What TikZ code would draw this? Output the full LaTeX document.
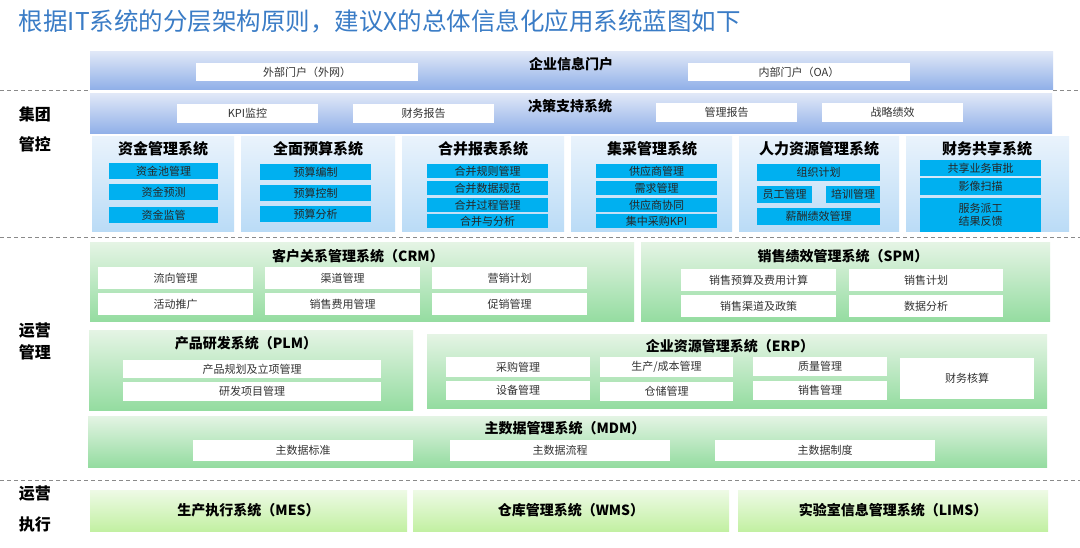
\documentclass[tikz,border=0pt]{standalone}
\usepackage{fontspec}
\setmainfont{Noto Sans CJK SC}
\definecolor{ttlblue}{HTML}{3A7CC6}
\definecolor{bandtop}{HTML}{DFE7F7}
\definecolor{bandbot}{HTML}{8FAFE8}
\definecolor{systop}{HTML}{E9F3FC}
\definecolor{sysbot}{HTML}{BADBF6}
\definecolor{cyanc}{HTML}{00B0F0}
\definecolor{grtop}{HTML}{E4F4E4}
\definecolor{grbot}{HTML}{94DCA0}
\definecolor{extop}{HTML}{EEFAE6}
\definecolor{exbot}{HTML}{C2F0A2}
\definecolor{dashc}{HTML}{8A8A8A}
\newcommand\bx[7]{\node[#2, minimum width={(#5-#3)*1pt}, minimum height={(#6-#4)*1pt}] (#1) at ({(#3+#5)/2},{(#4+#6)/2}) {#7};}
\begin{document}
\begin{tikzpicture}[x=1pt,y=-1pt,
  every node/.style={inner sep=0pt, outer sep=0pt, text=black},
  band/.style={top color=bandtop, bottom color=bandbot},
  sysbox/.style={top color=systop, bottom color=sysbot},
  cyanbox/.style={fill=cyanc, text=black!85, font=\fontsize{11}{13}\selectfont, align=center},
  wbox/.style={fill=white, text=black!80, font=\fontsize{11}{13}\selectfont},
  grbox/.style={top color=grtop, bottom color=grbot},
  exbox/.style={top color=extop, bottom color=exbot, font=\bfseries\fontsize{14}{16}\selectfont},
  ttl/.style={font=\bfseries\fontsize{14}{16}\selectfont},
  systtl/.style={font=\bfseries\fontsize{15}{17}\selectfont},
  side/.style={font=\bfseries\fontsize{16}{18}\selectfont},
  sep/.style={draw=dashc, line width=1pt, dash pattern=on 4pt off 3pt}]
\useasboundingbox (0,0) rectangle (1080,548);
\fill[white] (0,0) rectangle (1080,548);

% title
\node[anchor=west, text=ttlblue, font=\fontsize{24.5}{27}\selectfont] (title) at (19,21) {根据IT系统的分层架构原则，建议X的总体信息化应用系统蓝图如下};

% separators
\coordinate (s1a) at (0,91); \coordinate (s1b) at (90,91);
\coordinate (s1c) at (1053,91); \coordinate (s1d) at (1080,91);
\coordinate (s2a) at (0,238); \coordinate (s2b) at (1080,238);
\coordinate (s3a) at (0,480); \coordinate (s3b) at (1080,480);
\draw[sep] (s1a) -- (s1b);
\draw[sep] (s1c) -- (s1d);
\draw[sep] (s2a) -- (s2b);
\draw[sep] (s3a) -- (s3b);

% side labels
\node[side] (l1) at (35,114) {集团};
\node[side] (l2) at (35,144) {管控};
\node[side] (l3) at (35,331) {运营};
\node[side] (l4) at (35,352) {管理};
\node[side] (l5) at (35,494) {运营};
\node[side] (l6) at (35,524) {执行};

% portal
\bx{portal}{band}{90}{52}{1053}{90}{}
\node[ttl] (portalT) at (571,64) {企业信息门户};
\bx{p1}{wbox}{196}{63}{418}{81}{外部门户（外网）}
\bx{p2}{wbox}{688}{63}{910}{81}{内部门户（OA）}

% decision
\bx{dss}{band}{90}{94}{1052}{134}{}
\node[ttl] (dssT) at (570,106) {决策支持系统};
\bx{d1}{wbox}{177}{104}{318}{123}{KPI监控}
\bx{d2}{wbox}{353}{104}{494}{123}{财务报告}
\bx{d3}{wbox}{656}{103}{797}{122}{管理报告}
\bx{d4}{wbox}{822}{103}{963}{122}{战略绩效}

% six systems
\bx{fund}{sysbox}{92}{137}{234}{232}{}
\node[systtl] (fundT) at (163,149) {资金管理系统};
\bx{f1}{cyanbox}{109}{163}{218}{179}{资金池管理}
\bx{f2}{cyanbox}{109}{184}{218}{200}{资金预测}
\bx{f3}{cyanbox}{109}{207}{218}{223}{资金监管}

\bx{bud}{sysbox}{241}{137}{395}{232}{}
\node[systtl] (budT) at (318,149) {全面预算系统};
\bx{b1}{cyanbox}{260}{164}{371}{180}{预算编制}
\bx{b2}{cyanbox}{260}{185}{371}{201}{预算控制}
\bx{b3}{cyanbox}{260}{206}{371}{222}{预算分析}

\bx{cons}{sysbox}{402}{137}{564}{232}{}
\node[systtl] (consT) at (483,149) {合并报表系统};
\bx{c1}{cyanbox}{427}{164}{548}{178}{合并规则管理}
\bx{c2}{cyanbox}{427}{181}{548}{195}{合并数据规范}
\bx{c3}{cyanbox}{427}{198}{548}{212}{合并过程管理}
\bx{c4}{cyanbox}{427}{214}{548}{228}{合并与分析}

\bx{proc}{sysbox}{571}{137}{732}{232}{}
\node[systtl] (procT) at (652,149) {集采管理系统};
\bx{q1}{cyanbox}{596}{164}{717}{178}{供应商管理}
\bx{q2}{cyanbox}{596}{181}{717}{195}{需求管理}
\bx{q3}{cyanbox}{596}{198}{717}{212}{供应商协同}
\bx{q4}{cyanbox}{596}{214}{717}{228}{集中采购KPI}

\bx{hr}{sysbox}{739}{137}{899}{232}{}
\node[systtl] (hrT) at (819,149) {人力资源管理系统};
\bx{h1}{cyanbox}{757}{164}{880}{181}{组织计划}
\bx{h2}{cyanbox}{757}{186}{812}{203}{员工管理}
\bx{h3}{cyanbox}{826}{186}{880}{203}{培训管理}
\bx{h4}{cyanbox}{757}{208}{880}{225}{薪酬绩效管理}

\bx{fss}{sysbox}{906}{137}{1069}{232}{}
\node[systtl] (fssT) at (987,149) {财务共享系统};
\bx{s1}{cyanbox}{920}{160}{1041}{176}{共享业务审批}
\bx{s2}{cyanbox}{920}{178}{1041}{195}{影像扫描}
\bx{s3}{cyanbox}{920}{198}{1041}{232}{服务派工\\结果反馈}

% CRM
\bx{crm}{grbox}{90}{243}{634}{322}{}
\node[ttl] (crmT) at (358,256) {客户关系管理系统（CRM）};
\bx{r1}{wbox}{98}{267}{253}{289}{流向管理}
\bx{r2}{wbox}{265}{267}{420}{289}{渠道管理}
\bx{r3}{wbox}{432}{267}{587}{289}{营销计划}
\bx{r4}{wbox}{98}{293}{253}{315}{活动推广}
\bx{r5}{wbox}{265}{293}{420}{315}{销售费用管理}
\bx{r6}{wbox}{432}{293}{587}{315}{促销管理}

% SPM
\bx{spm}{grbox}{641}{243}{1050}{322}{}
\node[ttl] (spmT) at (843,256) {销售绩效管理系统（SPM）};
\bx{m1}{wbox}{681}{269}{836}{291}{销售预算及费用计算}
\bx{m2}{wbox}{849}{269}{1003}{291}{销售计划}
\bx{m3}{wbox}{681}{295}{836}{317}{销售渠道及政策}
\bx{m4}{wbox}{849}{295}{1003}{317}{数据分析}

% PLM
\bx{plm}{grbox}{89}{331}{413}{410}{}
\node[ttl] (plmT) at (246,343) {产品研发系统（PLM）};
\bx{l1b}{wbox}{123}{360}{381}{378}{产品规划及立项管理}
\bx{l2b}{wbox}{123}{382}{381}{401}{研发项目管理}

% ERP
\bx{erp}{grbox}{427}{335}{1047}{408}{}
\node[ttl] (erpT) at (730,346) {企业资源管理系统（ERP）};
\bx{e1}{wbox}{446}{357}{590}{377}{采购管理}
\bx{e2}{wbox}{446}{381}{590}{400}{设备管理}
\bx{e3}{wbox}{600}{357}{733}{377}{生产/成本管理}
\bx{e4}{wbox}{600}{382}{733}{401}{仓储管理}
\bx{e5}{wbox}{753}{357}{887}{376}{质量管理}
\bx{e6}{wbox}{753}{381}{887}{400}{销售管理}
\bx{e7}{wbox}{900}{358}{1034}{399}{财务核算}

% MDM
\bx{mdm}{grbox}{88}{416}{1047}{467}{}
\node[ttl] (mdmT) at (565,428) {主数据管理系统（MDM）};
\bx{k1}{wbox}{193}{440}{413}{461}{主数据标准}
\bx{k2}{wbox}{450}{440}{670}{461}{主数据流程}
\bx{k3}{wbox}{715}{440}{935}{461}{主数据制度}

% execution
\bx{mes}{exbox}{90}{490}{407}{531}{生产执行系统（MES）}
\bx{wms}{exbox}{413}{490}{729}{531}{仓库管理系统（WMS）}
\bx{lims}{exbox}{738}{490}{1048}{531}{实验室信息管理系统（LIMS）}
\end{tikzpicture}
\end{document}
